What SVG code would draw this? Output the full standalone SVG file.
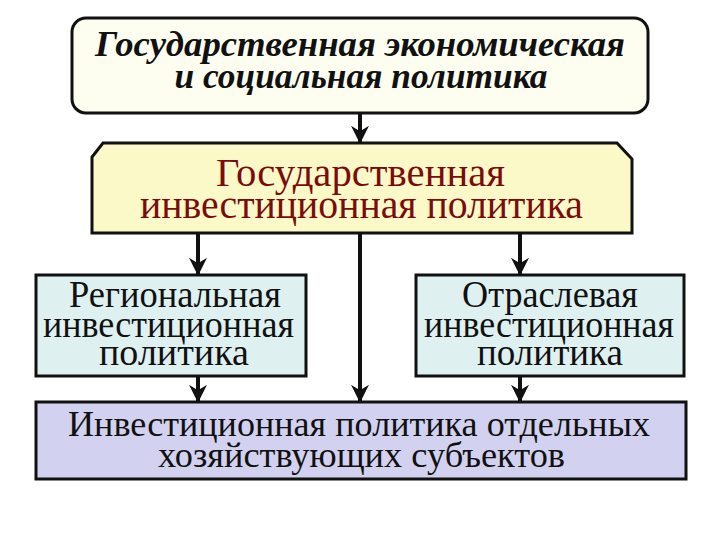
<svg xmlns="http://www.w3.org/2000/svg" width="720" height="540" viewBox="0 0 720 540">
<defs>
<marker id="ah" viewBox="0 0 10 10" refX="9" refY="5" markerWidth="4.5" markerHeight="4.5" orient="auto" markerUnits="strokeWidth">
<path d="M0,0 L10,5 L0,10 L3,5 Z" fill="#111"/>
</marker>
<style>
.box{stroke:#111;stroke-width:3}
.conn line{stroke:#111;stroke-width:4;marker-end:url(#ah)}
</style>
</defs>
<rect width="720" height="540" fill="#fff"/>
<g id="top">
<rect class="box" x="72" y="18" width="576" height="95" rx="14" fill="#fefef0"/>
<text x="360" y="56" font-size="36" font-weight="bold" font-style="italic" fill="#111" text-anchor="middle" style="font-family:'Times New Roman','Liberation Serif',serif" textLength="530" lengthAdjust="spacingAndGlyphs">Государственная экономическая</text>
<text x="361" y="88" font-size="36" font-weight="bold" font-style="italic" fill="#111" text-anchor="middle" style="font-family:'Times New Roman','Liberation Serif',serif" textLength="373" lengthAdjust="spacingAndGlyphs">и социальная политика</text>
</g>
<g id="state">
<path class="box" d="M103,143 L617,143 L632,159 L632,233 L92,233 L92,157 Z" fill="#fcf9c8"/>
<text x="360.5" y="186" font-size="40" fill="#7a0c0c" text-anchor="middle" style="font-family:'Times New Roman','Liberation Serif',serif" textLength="289" lengthAdjust="spacingAndGlyphs">Государственная</text>
<text x="361.5" y="218" font-size="40" fill="#7a0c0c" text-anchor="middle" style="font-family:'Times New Roman','Liberation Serif',serif" textLength="443" lengthAdjust="spacingAndGlyphs">инвестиционная политика</text>
</g>
<g id="regional">
<rect class="box" x="36" y="275" width="270" height="101" fill="#def0f0"/>
<text x="175" y="307" font-size="38" fill="#111" text-anchor="middle" style="font-family:'Times New Roman','Liberation Serif',serif" textLength="212" lengthAdjust="spacingAndGlyphs">Региональная</text>
<text x="168.5" y="337" font-size="38" fill="#111" text-anchor="middle" style="font-family:'Times New Roman','Liberation Serif',serif" textLength="251" lengthAdjust="spacingAndGlyphs">инвестиционная</text>
<text x="174" y="365" font-size="38" fill="#111" text-anchor="middle" style="font-family:'Times New Roman','Liberation Serif',serif" textLength="150" lengthAdjust="spacingAndGlyphs">политика</text>
</g>
<g id="sector">
<rect class="box" x="416" y="275" width="268" height="101" fill="#def0f0"/>
<text x="550" y="307" font-size="38" fill="#111" text-anchor="middle" style="font-family:'Times New Roman','Liberation Serif',serif" textLength="176" lengthAdjust="spacingAndGlyphs">Отраслевая</text>
<text x="549" y="337" font-size="38" fill="#111" text-anchor="middle" style="font-family:'Times New Roman','Liberation Serif',serif" textLength="250" lengthAdjust="spacingAndGlyphs">инвестиционная</text>
<text x="550" y="365" font-size="38" fill="#111" text-anchor="middle" style="font-family:'Times New Roman','Liberation Serif',serif" textLength="146" lengthAdjust="spacingAndGlyphs">политика</text>
</g>
<g id="firms">
<rect class="box" x="36" y="402" width="650" height="77" fill="#d2d2f0"/>
<text x="359" y="436" font-size="36" fill="#111" text-anchor="middle" style="font-family:'Times New Roman','Liberation Serif',serif" textLength="582" lengthAdjust="spacingAndGlyphs">Инвестиционная политика отдельных</text>
<text x="361.5" y="467" font-size="36" fill="#111" text-anchor="middle" style="font-family:'Times New Roman','Liberation Serif',serif" textLength="407" lengthAdjust="spacingAndGlyphs">хозяйствующих субъектов</text>
</g>
<g class="conn" id="connectors">
<line x1="360" y1="113" x2="360" y2="142"/>
<line x1="198" y1="233" x2="198" y2="274"/>
<line x1="360" y1="233" x2="360" y2="401"/>
<line x1="520" y1="233" x2="520" y2="274"/>
<line x1="198" y1="376" x2="198" y2="401"/>
<line x1="520" y1="376" x2="520" y2="401"/>
</g>
</svg>
